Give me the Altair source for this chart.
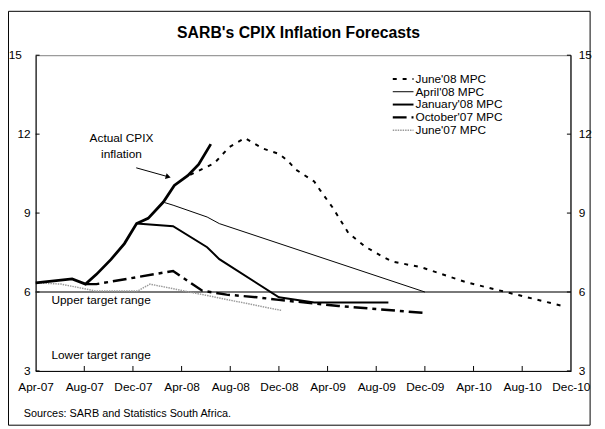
import json
import altair as alt
import pandas as pd

# ---------------- data (x = months since Apr-07, v = CPIX %) ----------------
MONTH_LABELS = ["Apr-07", "Aug-07", "Dec-07", "Apr-08", "Aug-08", "Dec-08",
                "Apr-09", "Aug-09", "Dec-09", "Apr-10", "Aug-10", "Dec-10"]
Y_TICKS = [3, 6, 9, 12, 15]

ACTUAL_M = [0, 3.0, 4.1, 5.0, 6.2, 7.3, 8.3, 9.25, 10.5, 11.4, 12.5, 13.4, 14.4]
ACTUAL_V = [6.35, 6.5, 6.3, 6.67, 7.24, 7.84, 8.6, 8.8, 9.42, 10.05, 10.42, 10.85, 11.62]

JUN08_M = [12.7, 14.7, 15.9, 17.2, 18.7, 20.0, 20.7, 21.4, 22.9, 23.4, 24.4, 25.7,
           27.1, 28.5, 29.3, 31.7, 35.4, 39.0, 43.5]
JUN08_V = [10.45, 10.9, 11.5, 11.85, 11.45, 11.25, 11.0, 10.65, 10.2, 9.86, 9.22, 8.25,
           7.72, 7.35, 7.16, 6.94, 6.37, 5.96, 5.45]

APR08_M = [10.6, 11.3, 14.1, 15.1, 32.0]
APR08_V = [9.4, 9.3, 8.85, 8.6, 6.0]

JAN08_M = [8.3, 11.3, 14.1, 15.1, 20.0, 22.9, 29.0]
JAN08_V = [8.6, 8.5, 7.7, 7.25, 5.8, 5.6, 5.6]

OCT07_M = [4.1, 5.0, 11.3, 13.7, 15.7, 18.2, 20.0, 24.9, 32.0]
OCT07_V = [6.3, 6.3, 6.8, 6.05, 5.9, 5.8, 5.7, 5.47, 5.2]

JUN07_M = [0, 2.1, 4.9, 8.4, 9.4, 20.2]
JUN07_V = [6.35, 6.3, 6.04, 6.04, 6.3, 5.3]

TARGET = [6]
ARROW_M = [8.27, 10.9]
ARROW_V = [10.72, 10.38]
ANNOT_M = [7.06, 7.06, 1.3, 1.3]
ANNOT_V = [11.85, 11.25, 5.7, 3.6]
ANNOT_T = ["Actual CPIX", "inflation", "Upper target range", "Lower target range"]

LEGEND = ["June'08 MPC", "April'08 MPC", "January'08 MPC", "October'07 MPC", "June'07 MPC"]

# ---------------- styling ----------------
FONT = "Liberation Sans"
W, H = 542.5, 320

xs = alt.Scale(domain=[0, 44], nice=False, zero=False)
ys = alt.Scale(domain=[3, 15], nice=False, zero=False)

label_expr = json.dumps(MONTH_LABELS) + "[round(datum.value / 4)]"
x_axis = alt.Axis(values=list(range(0, 45, 4)), labelExpr=label_expr, ticks=False, tickSize=0,
                  grid=False, domainColor="black", labelFont=FONT, labelFontSize=12,
                  labelColor="black", labelPadding=11, title=None, labelFlush=False,
                  labelOverlap=False)
y_axis = alt.Axis(values=Y_TICKS, labels=False, ticks=False, tickSize=0, grid=False,
                  domainColor="black", title=None)

X = lambda f="m": alt.X(f + ":Q", scale=xs, axis=x_axis)
Y = lambda f="v": alt.Y(f + ":Q", scale=ys, axis=y_axis)


def line(m, v, color, width, dash=None):
    kw = dict(color=color, strokeWidth=width, clip=False)
    if dash:
        kw["strokeDash"] = dash
    return alt.Chart(pd.DataFrame({"m": m, "v": v})).mark_line(**kw).encode(x=X(), y=Y())


STYLES = [
    ("black", 2, [4, 6]),
    ("black", 1, None),
    ("black", 2, None),
    ("black", 2.5, [14, 5, 4, 5]),
    ("#9a9a9a", 1.5, [1.5, 1]),
]

layers = []
# target line
layers.append(alt.Chart(pd.DataFrame({"v": TARGET})).mark_rule(color="#4d4d4d", strokeWidth=1.5)
              .encode(y=Y()))

layers.append(line(JUN07_M, JUN07_V, *STYLES[4]))
layers.append(line(OCT07_M, OCT07_V, *STYLES[3]))
layers.append(line(JAN08_M, JAN08_V, *STYLES[2]))
layers.append(line(APR08_M, APR08_V, *STYLES[1]))
layers.append(line(JUN08_M, JUN08_V, *STYLES[0]))
layers.append(line(ACTUAL_M, ACTUAL_V, "black", 2.8))

# arrow
layers.append(line(ARROW_M, ARROW_V, "black", 1))
layers.append(alt.Chart(pd.DataFrame({"m": ARROW_M[-1:], "v": ARROW_V[-1:]}))
              .mark_point(shape="triangle-right", angle=16, filled=True, size=35,
                          color="black", opacity=1)
              .encode(x=X(), y=Y()))

# annotations
ann = pd.DataFrame({"m": ANNOT_M, "v": ANNOT_V, "t": ANNOT_T})
layers.append(alt.Chart(ann.iloc[:2]).mark_text(font=FONT, fontSize=12, color="black",
                                                align="center", baseline="middle")
              .encode(x=X(), y=Y(), text="t:N"))
layers.append(alt.Chart(ann.iloc[2:]).mark_text(font=FONT, fontSize=12, color="black",
                                                align="left", baseline="middle")
              .encode(x=X(), y=Y(), text="t:N"))

# inward ticks
ytk = pd.DataFrame({"v": Y_TICKS})
layers.append(alt.Chart(ytk).mark_rule(color="black", strokeWidth=1)
              .encode(y=Y(), x=alt.value(0), x2=alt.value(4)))
layers.append(alt.Chart(ytk).mark_rule(color="black", strokeWidth=1)
              .encode(y=Y(), x=alt.value(W - 4), x2=alt.value(W)))
xtk = pd.DataFrame({"m": list(range(4, 44, 4))})
layers.append(alt.Chart(xtk).mark_rule(color="black", strokeWidth=1)
              .encode(x=X(), y=alt.value(H), y2=alt.value(H - 5)))
# right axis line
layers.append(alt.Chart(pd.DataFrame({"a": [0]})).mark_rule(color="black", strokeWidth=1)
              .encode(x=alt.value(W), y=alt.value(0), y2=alt.value(H)))

# y labels (left and right)
layers.append(alt.Chart(ytk).transform_filter("datum.v < 15")
              .mark_text(font=FONT, fontSize=12, color="black", align="right", baseline="middle")
              .encode(y=Y(), x=alt.value(-5), text="v:Q"))
layers.append(alt.Chart(ytk).transform_filter("datum.v == 15")
              .mark_text(font=FONT, fontSize=12, color="black", align="right", baseline="middle")
              .encode(y=Y(), x=alt.value(-14), text="v:Q"))
layers.append(alt.Chart(ytk)
              .mark_text(font=FONT, fontSize=12, color="black", align="left", baseline="middle")
              .encode(y=Y(), x=alt.value(W + 8), text="v:Q"))

# legend
dummy = pd.DataFrame({"a": [0]})
for i, (name, (c, w, d)) in enumerate(zip(LEGEND, STYLES)):
    yy = 24 + 13 * i
    kw = dict(color=c, strokeWidth=w)
    if d:
        kw["strokeDash"] = d
    layers.append(alt.Chart(dummy).mark_rule(**kw)
                  .encode(x=alt.value(362), x2=alt.value(383), y=alt.value(yy)))
    layers.append(alt.Chart(dummy).mark_text(text=name, font=FONT, fontSize=12, color="black",
                                             align="left", baseline="middle")
                  .encode(x=alt.value(385), y=alt.value(yy)))

# title and source
layers.append(alt.Chart(dummy).mark_text(text="SARB's CPIX Inflation Forecasts", font=FONT,
                                         fontSize=16, fontWeight="bold", color="black",
                                         align="center", baseline="middle")
              .encode(x=alt.value(266.5), y=alt.value(-22)))
layers.append(alt.Chart(dummy).mark_text(text="Sources: SARB and Statistics South Africa.",
                                         font=FONT, fontSize=11, color="black",
                                         align="left", baseline="middle")
              .encode(x=alt.value(-12), y=alt.value(364)))

# outer border
layers.append(alt.Chart(dummy).mark_rect(fill=None, stroke="black", strokeWidth=1)
              .encode(x=alt.value(-27.5), x2=alt.value(562), y=alt.value(-44.5), y2=alt.value(375)))

chart = (alt.layer(*layers)
         .properties(width=W, height=H,
                     autosize=alt.AutoSizeParams(type="none"),
                     padding={"left": 28, "top": 45, "right": 26.5, "bottom": 56},
                     background="white")
         .configure_view(stroke="#808080", strokeWidth=1))

chart.save("out.html", embed_options={"renderer": "svg", "actions": False})
